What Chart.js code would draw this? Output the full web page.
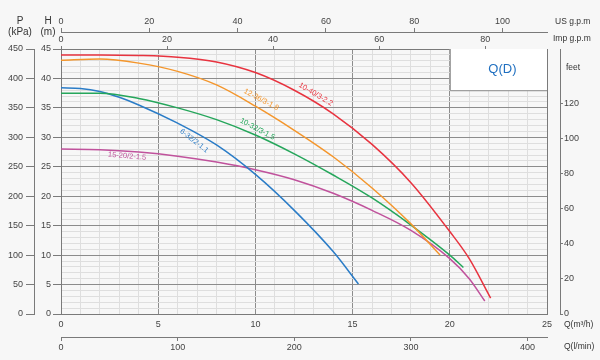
<!DOCTYPE html>
<html>
<head>
<meta charset="utf-8">
<script src="https://cdn.jsdelivr.net/npm/chart.js@4"></script>
<style>
  html, body { margin: 0; background: #f7f7f7; }
  #myChart { display: block; }
</style>
</head>
<body>
<canvas id="myChart" width="600" height="360"></canvas>
<script>
// pump curves: flow Q (m3/h) vs head H (m)
const models = ["10-40/3-2.2", "12-36/3-1.8", "10-32/3-1.5", "6-32/2-1.1", "15-20/2-1.5"];
const colors = ["#e8333f", "#f4962c", "#25a65b", "#2a7cc7", "#c0529c"];

const qRed = [0, 2, 4, 6, 8, 10, 12, 14, 16, 18, 20, 21, 22.1];
const hRed = [44.0, 44.0, 43.9, 43.6, 42.8, 41.0, 38.0, 34.0, 28.8, 22.3, 14.0, 9.4, 2.7];

const qOrange = [0, 2, 4, 6, 8, 10, 12, 14, 16, 18, 19.5];
const hOrange = [43.1, 43.3, 42.6, 41.2, 38.9, 35.3, 31.2, 26.7, 21.4, 15.3, 10.0];

const qGreen = [0, 2, 4, 6, 8, 10, 12, 14, 16, 18, 20, 20.7];
const hGreen = [37.5, 37.5, 36.6, 35.0, 33.0, 30.4, 27.2, 23.6, 19.7, 15.1, 10.0, 7.9];

const qBlue = [0, 1, 2, 3, 4, 6, 8, 10, 12, 14, 15.3];
const hBlue = [38.4, 38.3, 37.8, 36.8, 35.5, 32.4, 28.7, 23.7, 17.6, 10.6, 5.1];

const qPurple = [0, 2, 4, 6, 8, 10, 12, 14, 16, 18, 20, 21, 21.8];
const hPurple = [28.0, 27.9, 27.5, 26.8, 25.8, 24.5, 22.8, 20.5, 17.6, 14.2, 9.4, 6.0, 2.2];

// curve captions: Q, H of the text centre and slope angle (deg)
const labelQ = [13.1, 10.3, 10.1, 6.85, 3.4];
const labelH = [37.3, 36.4, 31.4, 29.4, 26.8];
const labelAngle = [31, 28, 28, 38, 5];

const qLists = [qRed, qOrange, qGreen, qBlue, qPurple];
const hLists = [hRed, hOrange, hGreen, hBlue, hPurple];

const datasets = models.map((m, i) => ({
  label: m,
  data: qLists[i].map((q, j) => ({ x: q, y: hLists[i][j] })),
  borderColor: colors[i],
  borderWidth: 1.5,
  pointRadius: 0,
  fill: false,
  cubicInterpolationMode: "monotone"
}));

const tickFont = { family: "'Liberation Sans', Arial, sans-serif", size: 9 };
const tickColor = "#444";
const axisColor = "#7a7a7a";
const majorGrid = "#8c8c8c";
const minorGrid = "#dedede";

function gridColor(ctx) {
  const v = ctx.tick ? ctx.tick.value : 0;
  return v % 5 === 0 ? majorGrid : minorGrid;
}
function every5(v) {
  return v % 5 === 0 ? v : "";
}

const decor = {
  id: "decor",
  beforeDraw(chart) {
    const c = chart.ctx;
    c.save();
    c.fillStyle = "#f7f7f7";
    c.fillRect(0, 0, chart.width, chart.height);
    c.restore();
  },
  beforeDatasetsDraw(chart) {
    const c = chart.ctx;
    const x = chart.scales.x, y = chart.scales.y;
    const x0 = x.getPixelForValue(20), x1 = x.getPixelForValue(25);
    const y0 = y.getPixelForValue(45), y1 = y.getPixelForValue(38);
    c.save();
    c.fillStyle = "#ffffff";
    c.fillRect(x0, y0, x1 - x0, y1 - y0);
    c.strokeStyle = "#8c8c8c";
    c.lineWidth = 1;
    c.beginPath();
    c.moveTo(x0 + 0.5, y0);
    c.lineTo(x0 + 0.5, y1 + 0.5);
    c.lineTo(x1, y1 + 0.5);
    c.stroke();
    c.fillStyle = "#1f6fc0";
    c.font = "13px 'Liberation Sans', Arial, sans-serif";
    c.textAlign = "center";
    c.textBaseline = "middle";
    c.fillText("Q(D)", (x0 + x1) / 2 + 4, (y0 + y1) / 2);
    c.restore();
  },
  afterDatasetsDraw(chart) {
    const c = chart.ctx;
    const x = chart.scales.x, y = chart.scales.y;
    c.save();
    c.font = "7.5px 'Liberation Sans', Arial, sans-serif";
    c.textAlign = "center";
    c.textBaseline = "middle";
    models.forEach((m, i) => {
      c.save();
      c.translate(x.getPixelForValue(labelQ[i]), y.getPixelForValue(labelH[i]));
      c.rotate(labelAngle[i] * Math.PI / 180);
      c.fillStyle = colors[i];
      c.fillText(m, 0, 0);
      c.restore();
    });
    c.fillStyle = "#333";
    c.font = "10px 'Liberation Sans', Arial, sans-serif";
    c.fillText("P", 20, 21);
    c.fillText("(kPa)", 20, 32);
    c.fillText("H", 48, 21);
    c.fillText("(m)", 48, 32);
    c.font = "8.5px 'Liberation Sans', Arial, sans-serif";
    c.textAlign = "left";
    c.fillText("US g.p.m", 555, 22);
    c.fillText("Imp g.p.m", 553, 39);
    c.fillText("feet", 566, 68);
    c.fillText("Q(m\u00b3/h)", 564, 325);
    c.fillText("Q(l/min)", 564, 347);
    c.restore();
  }
};

const ctx = document.getElementById("myChart");
new Chart(ctx, {
  type: "line",
  data: { datasets: datasets },
  plugins: [decor],
  options: {
    responsive: false,
    animation: false,
    devicePixelRatio: 1,
    layout: { padding: 0 },
    plugins: { legend: { display: false }, tooltip: { enabled: false } },
    scales: {
      x: {
        type: "linear", axis: "x", position: "bottom", weight: 0,
        min: 0, max: 25,
        ticks: { stepSize: 1, autoSkip: false, maxRotation: 0, includeBounds: false,
                 callback: every5, padding: 5, color: tickColor, font: tickFont },
        grid: { color: gridColor, lineWidth: 1, drawTicks: false },
        border: { color: axisColor },
        afterFit: (s) => { s.height = 23; }
      },
      xl: {
        type: "linear", axis: "x", position: "bottom", weight: 1,
        min: 0, max: 25 * 1000 / 60,
        ticks: { stepSize: 100, includeBounds: false, maxRotation: 0, padding: 1,
                 color: tickColor, font: tickFont },
        grid: { drawOnChartArea: false, tickLength: 4, color: axisColor },
        border: { color: axisColor },
        afterFit: (s) => { s.height = 23; }
      },
      xi: {
        type: "linear", axis: "x", position: "top", weight: 0,
        min: 0, max: 25 * 3.6661,
        ticks: { stepSize: 20, includeBounds: false, maxRotation: 0, padding: 1,
                 color: tickColor, font: tickFont },
        grid: { drawOnChartArea: false, tickLength: 3, color: axisColor },
        border: { color: axisColor },
        afterFit: (s) => { s.height = 17; }
      },
      xu: {
        type: "linear", axis: "x", position: "top", weight: 1,
        min: 0, max: 25 * 4.4029,
        ticks: { stepSize: 20, includeBounds: false, maxRotation: 0, padding: 1,
                 color: tickColor, font: tickFont },
        grid: { drawOnChartArea: false, tickLength: 4, color: axisColor },
        border: { color: axisColor },
        afterFit: (s) => { s.height = 32; }
      },
      y: {
        type: "linear", axis: "y", position: "left", weight: 0,
        min: 0, max: 45,
        ticks: { stepSize: 1, autoSkip: false, includeBounds: false,
                 callback: every5, padding: 2, color: tickColor, font: tickFont },
        grid: { color: gridColor, lineWidth: 1, tickLength: 8,
                tickColor: (c) => (c.tick && c.tick.value % 5 === 0 ? axisColor : "rgba(0,0,0,0)") },
        border: { color: axisColor },
        afterFit: (s) => { s.width = 27; }
      },
      yp: {
        type: "linear", axis: "y", position: "left", weight: 1,
        min: 0, max: 450,
        ticks: { stepSize: 50, includeBounds: false, padding: 3, color: tickColor, font: tickFont },
        grid: { drawOnChartArea: false, tickLength: 8, color: axisColor },
        border: { color: axisColor },
        afterFit: (s) => { s.width = 34; }
      },
      ys: {
        type: "linear", axis: "y", position: "right", weight: 0,
        min: 0, max: 45,
        ticks: { display: false },
        grid: { drawOnChartArea: false, drawTicks: false },
        border: { color: axisColor },
        afterFit: (s) => { s.width = 13; }
      },
      yf: {
        type: "linear", axis: "y", position: "right", weight: 1,
        min: 0, max: 151,
        ticks: { stepSize: 20, includeBounds: false, padding: 1, color: tickColor, font: tickFont },
        afterBuildTicks: (s) => { s.ticks = s.ticks.filter((t) => t.value <= 120); },
        grid: { drawOnChartArea: false, tickLength: 3, color: axisColor },
        border: { color: axisColor },
        afterFit: (s) => { s.width = 40; }
      }
    }
  }
});
</script>
</body>
</html>
